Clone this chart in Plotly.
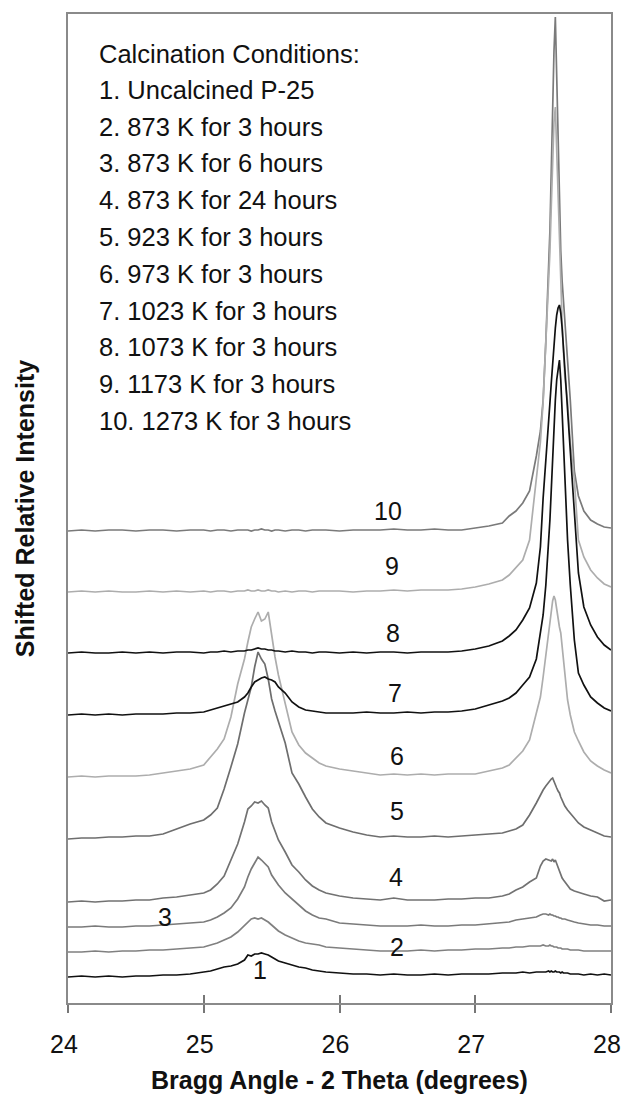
import plotly.graph_objects as go

# ---- shared 2-theta grid (degrees) ----
two_theta = [
    24.0, 24.1, 24.2, 24.3, 24.4, 24.5, 24.6, 24.7, 24.8, 24.9,
    25.0, 25.05, 25.1, 25.15, 25.2, 25.25,
    25.3, 25.325, 25.35, 25.375, 25.4, 25.425, 25.45, 25.475, 25.5, 25.525, 25.55,
    25.6, 25.65, 25.7, 25.75, 25.8, 25.85,
    25.9, 26.0, 26.1, 26.2, 26.3, 26.4, 26.5, 26.6, 26.7, 26.8, 26.9, 27.0, 27.1, 27.2,
    27.25, 27.3, 27.35, 27.4, 27.45, 27.48,
    27.5, 27.52, 27.54, 27.55, 27.56, 27.57, 27.58, 27.59, 27.6, 27.61, 27.62, 27.63, 27.64, 27.65, 27.66, 27.68, 27.7,
    27.73, 27.76, 27.8, 27.85, 27.9, 27.95, 28.0,
]

# ---- relative intensities (arbitrary units) ----
i1 = [0, 1, 0, 1, 0, 1, 1, 2, 2, 3,
      5, 6, 8, 10, 11, 13,
      17, 22, 21, 23, 23, 24, 23, 22, 20, 18, 16,
      14, 12, 10, 9, 7, 6,
      5, 4, 3, 3, 2, 3, 2, 2, 3, 2, 3, 3, 3, 4,
      4, 4, 5, 4, 5, 5,
      5, 5, 6, 5, 6, 5, 5, 6, 5, 5, 5, 4, 5, 4, 4, 4, 3,
      3, 3, 2, 3, 2, 3, 2]
i2 = [0, 0, 1, 0, 1, 1, 2, 2, 3, 4,
      5, 7, 9, 12, 15, 20,
      26, 30, 33, 34, 33, 34, 32, 30, 27, 24, 21,
      17, 14, 11, 9, 8, 7,
      5, 4, 3, 2, 1, 1, 1, 2, 1, 2, 2, 3, 3, 4,
      4, 5, 5, 6, 6, 6,
      7, 6, 6, 7, 6, 6, 5, 5, 5, 4, 4, 4, 3, 3, 3, 3, 2,
      2, 2, 1, 1, 1, 1, 1]
i3 = [0, 0, 1, 0, 0, 1, 1, 2, 3, 4,
      5, 7, 10, 14, 19, 28,
      40, 50, 58, 64, 70, 67, 63, 60, 52, 47, 42,
      34, 28, 22, 16, 12, 9,
      8, 4, 3, 2, 1, 1, 1, 2, 1, 1, 2, 2, 3, 4,
      5, 7, 8, 9, 10, 12,
      13, 13, 12, 13, 12, 12, 11, 11, 10, 10, 9, 9, 8, 8, 8, 7, 6,
      5, 4, 3, 2, 2, 1, 1]
i4 = [0, 1, 0, 1, 1, 2, 2, 4, 5, 7,
      9, 12, 18, 26, 42, 58,
      80, 93, 96, 100, 99, 101, 97, 94, 80, 70, 62,
      50, 37, 30, 22, 16, 12,
      9, 6, 4, 3, 2, 4, 2, 2, 2, 3, 3, 4, 4, 6,
      8, 12, 15, 20, 24, 36,
      41, 43, 42, 42, 41, 43, 40, 42, 38, 34, 30, 27, 24, 22, 20, 16, 13,
      11, 10, 8, 6, 5, 1, 2]
i5 = [0, 1, 1, 2, 2, 3, 3, 5, 10, 15,
      19, 24, 31, 50, 72, 95,
      126, 140, 152, 172, 187, 180, 175, 160, 140, 128, 118,
      96, 66, 55, 42, 30, 22,
      16, 11, 7, 4, 2, 3, 2, 2, 3, 2, 3, 4, 5, 6,
      8, 10, 14, 24, 36, 44,
      49, 53, 57, 59, 60, 61, 57, 54, 51, 48, 46, 42, 39, 36, 33, 29, 26,
      21, 16, 12, 9, 6, 3, 2]
i6 = [0, 1, 0, 1, 1, 1, 2, 4, 6, 8,
      12, 20, 28, 38, 60, 93,
      118, 135, 150, 158, 165, 156, 158, 165, 140, 120, 102,
      75, 45, 32, 24, 19, 14,
      11, 8, 6, 4, 2, 3, 2, 3, 2, 3, 3, 3, 6, 9,
      12, 19, 26, 37, 64, 80,
      100, 122, 144, 155, 166, 176, 181, 177, 168, 158, 150, 144, 130, 115, 100, 77, 62,
      45, 36, 25, 16, 11, 7, 4]
i7 = [0, 1, 0, 1, 0, 1, 1, 1, 2, 2,
      3, 5, 7, 9, 11, 13,
      18, 22, 28, 33, 35, 37, 38, 36, 35, 33, 28,
      22, 13, 8, 5, 4, 3,
      2, 2, 2, 3, 2, 2, 3, 2, 3, 3, 4, 6, 10, 14,
      17, 22, 30, 38, 56, 80,
      100, 130, 170, 195, 225, 260, 290, 315, 335, 348, 355, 335, 300, 265, 230, 175, 130,
      75, 42, 30, 18, 12, 7, 4]
i8 = [0, 1, 0, 0, 1, 0, 1, 0, 1, 1,
      0, 1, 1, 2, 1, 2,
      2, 3, 3, 4, 5, 4, 4, 3, 3, 2, 2,
      1, 2, 1, 1, 0, 1,
      1, 0, 1, 0, 1, 1, 0, 1, 1, 1, 2, 4, 7, 12,
      17, 23, 33, 45, 70, 106,
      155, 190, 230, 250, 270, 290, 310, 325, 338, 345, 348, 340, 325, 305, 285, 240, 200,
      140, 80, 46, 28, 16, 8, 3]
i9 = [0, 1, 0, 1, 0, 0, 1, 0, 1, 0,
      1, 0, 1, 1, 0, 1,
      1, 2, 1, 1, 2, 1, 1, 2, 1, 1, 0,
      1, 0, 1, 1, 0, 1,
      1, 1, 0, 1, 1, 2, 1, 2, 2, 2, 3, 5, 8, 12,
      17, 24, 32, 52, 112, 150,
      190, 245, 300, 340, 385, 430, 470, 485, 440, 390, 340, 300, 270, 240, 215, 190, 150,
      112, 52, 35, 22, 14, 8, 5]
i10 = [0, 1, 0, 1, 1, 0, 1, 1, 0, 1,
       1, 0, 1, 1, 0, 1,
       1, 1, 0, 1, 1, 2, 1, 1, 0, 1, 1,
       0, 1, 1, 0, 1, 1,
       1, 0, 1, 1, 1, 2, 1, 1, 2, 1, 1, 3, 5, 8,
       15, 20, 28, 40, 75, 100,
       131, 190, 260, 300, 360, 431, 480, 514, 450, 380, 320, 280, 250, 230, 210, 165, 131,
       60, 35, 20, 11, 7, 4, 3]

intensities = [i1, i2, i3, i4, i5, i6, i7, i8, i9, i10]
offsets = [26, 51, 76, 101, 164, 226, 288, 350, 411, 472]
curve_names = ["1", "2", "3", "4", "5", "6", "7", "8", "9", "10"]

conditions = [
    "Calcination Conditions:",
    "1. Uncalcined P-25",
    "2. 873 K for 3 hours",
    "3. 873 K for 6 hours",
    "4. 873 K for 24 hours",
    "5. 923 K for 3 hours",
    "6. 973 K for 3 hours",
    "7. 1023 K for 3 hours",
    "8. 1073 K for 3 hours",
    "9. 1173 K for 3 hours",
    "10. 1273 K for 3 hours",
]

x_ticks = [24, 25, 26, 27, 28]

# curve label positions (data coords)
label_x = [25.414, 26.424, 24.715, 26.416, 26.424, 26.424, 26.409, 26.394, 26.387, 26.357]
label_y = [33, 56, 86, 126, 192, 247, 310, 370, 437, 492]

for arr in intensities:
    assert len(arr) == len(two_theta), len(arr)

colors = ["#111111", "#808080", "#7a7a7a", "#727272", "#6e6e6e",
          "#adadad", "#111111", "#111111", "#adadad", "#7a7a7a"]
draw_order = [9, 8, 5, 4, 3, 2, 1, 7, 6, 0]

FONT = "Liberation Sans, Arial, Helvetica, sans-serif"

fig = go.Figure()
for k in draw_order:
    fig.add_trace(go.Scatter(
        x=two_theta,
        y=[v + offsets[k] for v in intensities[k]],
        mode="lines",
        line=dict(color=colors[k], width=1.7),
        name=curve_names[k],
        showlegend=False,
        hoverinfo="skip",
    ))

# invisible trace on xaxis2 so the inside tick marks are drawn
fig.add_trace(go.Scatter(x=[24, 28], y=[0, 0], xaxis="x2", mode="lines",
                         line=dict(width=0), showlegend=False, hoverinfo="skip"))

annotations = []
y_top = 989
line_y = [949, 913, 876, 840, 803, 766, 729, 692, 656, 619, 582]
for t, yy in zip(conditions, line_y):
    annotations.append(dict(x=24.215, y=yy, xref="x", yref="y", text=t,
                            showarrow=False, xanchor="left", yanchor="middle",
                            font=dict(family=FONT, size=25.5, color="#111111")))
for name, lx, ly in zip(curve_names, label_x, label_y):
    annotations.append(dict(x=lx, y=ly, xref="x", yref="y", text=name,
                            showarrow=False, xanchor="center", yanchor="middle",
                            font=dict(family=FONT, size=25, color="#111111")))

fig.update_layout(
    width=621, height=1095,
    margin=dict(l=68, r=10, t=14, b=92, autoexpand=False),
    plot_bgcolor="white", paper_bgcolor="white",
    font=dict(family=FONT, color="#111111"),
    annotations=annotations,
    xaxis=dict(
        range=[24, 28], tickvals=x_ticks, ticktext=[str(t) for t in x_ticks],
        ticks="outside", ticklen=8, tickwidth=1.5, tickcolor="#777777",
        showline=True, linecolor="#8a8a8a", linewidth=1.5, mirror=True,
        showgrid=False, zeroline=False, automargin=False,
        tickfont=dict(family=FONT, size=25, color="#111111"),
        ticklabelstandoff=10, ticklabelshift=-4, ticklabeloverflow="allow",
        title=dict(text="<b>Bragg Angle - 2 Theta (degrees)</b>",
                   font=dict(family=FONT, size=25, color="#111111"), standoff=15),
    ),
    xaxis2=dict(
        range=[24, 28], overlaying="x", side="bottom", tickvals=x_ticks,
        showticklabels=False, ticks="inside", ticklen=8, tickwidth=1.5,
        tickcolor="#777777", showline=False, showgrid=False, zeroline=False,
    ),
    yaxis=dict(
        range=[0, y_top], showticklabels=False, ticks="",
        showline=True, linecolor="#8a8a8a", linewidth=1.5, mirror=True,
        showgrid=False, zeroline=False, automargin=False,
        title=dict(text="<b>Shifted Relative Intensity</b>",
                   font=dict(family=FONT, size=25, color="#111111"), standoff=25),
    ),
)

fig.write_html("out.html",
               config={"displayModeBar": False},
               post_script="document.body.style.margin='0';"
                           "document.documentElement.style.overflow='hidden';")
